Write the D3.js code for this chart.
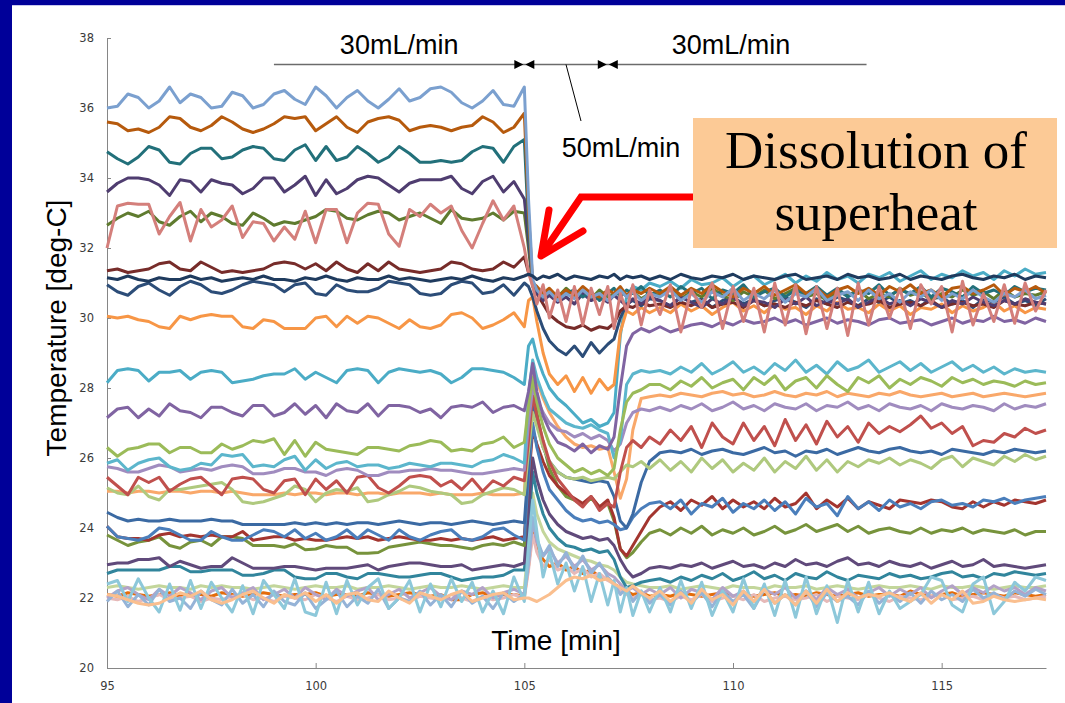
<!DOCTYPE html>
<html>
<head>
<meta charset="utf-8">
<script src="https://cdn.jsdelivr.net/npm/d3@7"></script>
<style>
  body { margin: 0; background: #fff; }
  #chart { width: 1065px; height: 703px; }
</style>
</head>
<body>
<div id="chart"></div>
<script>
const width = 1065;
const height = 703;
const margin = { top: 38, right: 19, bottom: 35, left: 107 };

// time grid (min): before the switch, the 50mL/min period, after
const timesPre = [95,95.25,95.5,95.75,96,96.25,96.5,96.75,97,97.25,97.5,97.75,98,98.25,98.5,98.75,99,99.25,99.5,99.75,100,100.25,100.5,100.75,101,101.25,101.5,101.75,102,102.25,102.5,102.75,103,103.25,103.5,103.75,104,104.25,104.5,104.75,105];
const timesMid = [105.1,105.2,105.3,105.45,105.6,105.8,106,106.2,106.4,106.6,106.8,107,107.15,107.3,107.45,107.6,107.8,108];
const timesPost = [108.25,108.5,108.75,109,109.25,109.5,109.75,110,110.25,110.5,110.75,111,111.25,111.5,111.75,112,112.25,112.5,112.75,113,113.25,113.5,113.75,114,114.25,114.5,114.75,115,115.25,115.5,115.75,116,116.25,116.5,116.75,117,117.25,117.5];

const xTicks = [95, 100, 105, 110, 115];
const yTicks = [20, 22, 24, 26, 28, 30, 32, 34, 36, 38];
const flowLabels = ["30mL/min", "50mL/min", "30mL/min"];
const flowChanges = [105, 107];

// temperatures [deg-C], one array per thermocouple: [pre, mid, post]
const orangeDark = [
  [22.1,22.05,22.15,22.1,22.05,22.1,22.15,22.05,22.1,22.1,22.05,22.15,22.1,22.05,22.1,22.15,22.1,22.05,22.1,22.1,22.15,22.05,22.1,22.1,22.05,22.15,22.1,22.05,22.1,22.15,22.1,22.05,22.1,21.95,21.95,22.1,22.15,22.05,22.1,22.1,22.05],
  [22.9,24.0,23.5,23.1,22.9,23.0,22.8,22.9,22.7,22.8,22.6,22.55,22.4,22.3,22.2,22.1,22.15,22.05],
  [22.1,22.05,22.15,22.1,22.05,22.1,22.15,22.05,22.1,22.05,22.1,22.15,22.05,22.1,22.05,22.15,22.1,22.05,22.1,22.15,22.05,22.1,22.1,22.05,22.2,22.1,22.05,22.1,22.15,22.05,22.1,22.15,22.1,22.05,22.15,22.1,22.05,22.1]
];
const pink = [
  [22.0,21.95,22.05,21.9,22.0,22.1,21.95,22.0,22.05,21.9,22.0,21.95,22.05,22.1,21.95,22.0,21.9,22.05,22.0,21.95,22.1,22.0,21.9,22.05,21.95,22.0,22.1,21.95,22.0,21.9,22.05,22.0,21.95,22.1,22.0,21.9,22.05,21.95,22.0,22.1,22.0],
  [22.8,23.8,23.3,22.9,23.1,22.8,22.9,22.7,22.85,22.6,22.7,22.5,22.4,22.2,22.1,22.0,22.1,21.95],
  [22.0,21.9,22.05,21.95,22.1,21.9,22.0,22.05,21.95,22.1,21.9,22.0,22.05,21.95,22.0,22.1,21.9,22.05,22.0,21.95,22.1,22.0,21.9,22.05,22.0,21.95,22.05,22.1,21.95,22.0,22.05,21.95,22.1,22.0,22.05,21.95,22.0,22.05]
];
const paleGreen = [
  [22.3,22.35,22.3,22.25,22.3,22.35,22.3,22.3,22.25,22.35,22.3,22.35,22.3,22.3,22.25,22.3,22.35,22.3,22.25,22.3,22.35,22.3,22.3,22.35,22.25,22.3,22.3,22.35,22.3,22.25,22.3,22.35,22.3,22.3,22.35,22.3,22.25,22.3,22.35,22.3,22.3],
  [23.5,25.0,24.4,23.9,23.6,23.4,23.3,23.2,23.1,23.05,22.95,22.9,22.8,22.6,22.45,22.4,22.35,22.3],
  [22.3,22.35,22.25,22.3,22.35,22.3,22.25,22.35,22.3,22.3,22.25,22.35,22.3,22.3,22.35,22.25,22.3,22.35,22.3,22.25,22.3,22.35,22.3,22.3,22.35,22.3,22.25,22.35,22.3,22.3,22.35,22.3,22.25,22.3,22.35,22.3,22.3,22.35]
];
const paleLavender = [
  [22.0,22.2,22.3,22.1,21.95,22.25,22.05,22.3,22.15,21.95,22.2,22.3,22.0,22.15,22.3,21.95,22.1,22.25,22.0,22.3,22.1,21.95,22.25,22.05,22.2,22.3,21.95,22.1,22.25,22.0,22.15,22.3,22.05,21.95,22.2,22.1,22.3,22.0,22.15,22.25,22.1],
  [23.0,24.2,23.6,23.2,23.4,23.0,23.2,22.9,23.1,22.8,22.95,22.7,22.6,22.4,22.2,22.3,22.1,22.25],
  [22.1,22.3,22.0,22.25,22.15,21.95,22.3,22.05,22.2,21.9,22.25,22.1,22.3,22.0,22.2,21.95,22.3,22.1,22.25,22.0,22.15,22.3,22.05,22.25,22.1,22.3,22.0,22.2,22.35,22.1,22.3,22.15,22.35,22.2,22.3,22.1,22.3,22.2]
];
const cornflower = [
  [21.9,22.2,21.75,22.1,21.8,22.25,21.9,22.0,21.7,22.2,21.95,21.8,22.25,21.85,22.1,21.75,22.2,21.9,21.8,22.15,21.7,21.95,22.2,21.75,22.05,21.85,22.25,21.7,22.0,21.9,22.2,21.8,22.1,21.75,22.2,21.85,22.05,21.7,22.15,21.9,22.1],
  [23.0,24.3,23.7,23.2,23.5,22.9,23.3,22.8,23.2,22.7,23.0,22.6,22.4,22.1,22.3,21.9,22.2,21.85],
  [22.1,21.8,22.2,21.85,22.15,21.75,22.2,21.9,22.1,21.7,22.25,21.85,22.1,21.8,22.2,21.75,22.15,21.9,22.05,21.8,22.2,21.85,22.1,21.9,22.15,21.85,22.2,21.95,22.1,21.9,22.25,22.0,22.15,21.95,22.2,22.05,22.25,22.1]
];
const tealLow = [
  [22.7,22.8,22.8,22.8,22.8,22.8,22.9,22.9,22.75,22.75,22.8,22.8,22.8,22.65,22.65,22.7,22.8,22.8,22.6,22.55,22.55,22.7,22.7,22.6,22.55,22.7,22.7,22.65,22.6,22.6,22.65,22.7,22.7,22.6,22.5,22.55,22.6,22.6,22.65,22.8,22.8],
  [24.0,25.6,25.0,24.4,24.0,23.7,23.5,23.45,23.35,23.4,23.3,23.35,23.1,22.6,22.3,22.35,22.45,22.5],
  [22.55,22.45,22.6,22.5,22.65,22.55,22.7,22.5,22.6,22.75,22.55,22.65,22.5,22.7,22.6,22.55,22.75,22.6,22.5,22.65,22.6,22.55,22.7,22.6,22.65,22.55,22.6,22.7,22.75,22.6,22.65,22.55,22.7,22.65,22.75,22.7,22.65,22.7]
];
const purpleLow = [
  [22.95,23.0,23.0,23.1,23.1,23.15,22.9,23.05,22.95,22.85,22.9,22.9,23.15,23.0,22.85,22.85,22.85,22.9,22.9,22.85,22.8,22.85,22.85,22.85,22.9,22.95,22.8,22.9,22.95,23.0,23.0,22.95,22.9,22.9,22.95,22.8,22.85,22.9,22.95,22.9,23.0],
  [24.5,26.0,25.4,24.8,24.4,24.1,23.9,23.8,23.7,23.75,23.65,23.7,23.5,23.1,22.8,22.6,22.7,22.85],
  [22.9,22.85,22.95,22.9,23.0,22.85,22.95,23.05,22.9,22.95,22.85,23.0,22.9,23.1,22.95,23.0,22.9,23.05,23.15,22.95,23.0,22.9,23.05,22.95,22.9,23.0,22.85,22.95,23.05,22.9,22.95,23.1,22.9,22.95,22.9,22.85,22.9,22.95]
];
const green = [
  [23.8,23.65,23.5,23.6,23.65,23.75,23.5,23.42,23.6,23.65,23.5,23.75,23.75,23.7,23.5,23.5,23.5,23.45,23.55,23.38,23.4,23.5,23.45,23.45,23.28,23.28,23.3,23.45,23.5,23.55,23.6,23.55,23.5,23.5,23.45,23.4,23.5,23.55,23.5,23.6,23.5],
  [26.0,28.0,27.3,26.4,25.7,25.2,24.9,24.8,24.65,24.85,24.6,24.7,24.2,23.4,23.15,23.3,23.6,23.85],
  [23.95,23.8,24.0,23.85,24.05,23.8,23.95,23.85,24.0,23.8,23.9,24.05,23.85,23.95,24.1,23.9,24.0,24.1,23.9,24.05,23.85,23.95,24.0,23.9,23.85,24.0,23.85,23.95,23.9,24.0,23.85,23.95,23.9,23.85,23.95,23.8,23.9,23.9]
];
const darkRed = [
  [24.05,23.75,23.7,23.7,23.65,23.8,23.85,23.75,23.8,23.75,23.8,23.75,23.75,23.9,23.65,23.7,23.75,23.75,23.65,23.7,23.65,23.65,23.7,23.75,23.7,23.75,23.65,23.7,23.75,23.7,23.65,23.65,23.7,23.65,23.7,23.65,23.7,23.75,23.65,23.7,23.75],
  [25.3,26.8,26.4,25.9,25.5,25.2,25.0,24.85,24.7,24.9,24.6,24.8,24.3,23.4,23.2,23.5,23.9,24.3],
  [24.6,24.75,24.5,24.8,24.65,24.9,24.55,24.8,24.6,24.75,24.55,24.85,24.6,24.7,25.0,24.55,24.8,24.6,24.85,24.55,24.75,24.65,24.55,24.8,24.75,24.7,24.8,24.75,24.6,24.55,24.75,24.6,24.75,24.65,24.8,24.75,24.7,24.8]
];
const blue = [
  [24.05,23.75,23.7,23.65,23.75,24.0,23.95,23.8,23.65,23.65,23.9,23.75,23.65,23.65,23.8,23.95,23.9,23.75,23.95,23.7,23.85,23.65,23.75,23.95,23.7,23.95,23.8,23.65,23.95,23.75,23.65,23.8,23.9,23.95,23.7,23.65,23.75,23.95,24.0,23.8,23.65],
  [25.5,27.0,26.3,25.6,25.1,24.8,24.5,24.3,24.2,24.25,24.15,24.2,24.1,23.95,24.0,24.3,24.55,24.7],
  [24.75,24.55,24.8,24.4,24.7,24.6,24.85,24.45,24.7,24.55,24.8,24.5,24.75,24.4,24.85,24.6,24.7,24.35,24.9,24.55,24.75,24.5,24.8,24.6,24.7,24.55,24.75,24.8,24.65,24.7,24.6,24.8,24.75,24.85,24.7,24.8,24.85,24.9]
];
const steelBlue = [
  [24.45,24.3,24.2,24.25,24.2,24.2,24.25,24.2,24.2,24.2,24.25,24.2,24.2,24.1,24.1,24.1,24.1,24.1,24.15,24.1,24.15,24.1,24.15,24.1,24.15,24.15,24.1,24.15,24.2,24.15,24.1,24.15,24.15,24.1,24.15,24.2,24.15,24.1,24.15,24.2,24.15],
  [25.8,27.6,27.0,26.3,25.9,25.6,25.45,25.4,25.35,25.3,25.35,25.3,24.9,24.2,24.0,24.4,25.3,25.9],
  [26.15,26.2,26.15,26.25,26.1,26.2,26.25,26.15,26.1,26.2,26.3,26.15,26.2,26.05,26.2,26.15,26.25,26.1,26.2,26.3,26.2,26.15,26.25,26.3,26.2,26.15,26.2,26.1,26.25,26.2,26.15,26.1,26.2,26.15,26.25,26.2,26.15,26.2]
];
const lightOrange = [
  [25.05,25.05,25.0,25.05,25.05,25.0,25.05,25.05,25.0,25.05,25.05,25.0,25.05,25.0,24.95,24.95,24.95,25.0,24.95,25.0,25.0,24.95,25.0,25.0,24.95,25.0,25.0,24.95,25.0,25.0,25.0,24.95,25.0,24.95,24.95,24.95,25.0,24.95,24.95,24.95,25.0],
  [27.0,28.6,28.2,27.7,27.3,26.9,26.6,26.4,26.3,26.35,26.25,26.3,25.6,24.85,25.4,26.8,27.7,27.75],
  [27.8,27.75,27.85,27.8,27.75,27.85,27.9,27.8,27.85,27.75,27.8,27.9,27.8,27.75,27.85,27.8,27.9,27.75,27.85,27.8,27.75,27.85,27.8,27.9,27.8,27.75,27.8,27.85,27.75,27.8,27.85,27.75,27.8,27.85,27.8,27.75,27.8,27.85]
];
const sageGreen = [
  [25.15,25.0,24.95,25.2,24.9,24.8,25.1,25.1,25.15,25.2,25.25,25.3,25.1,24.75,24.7,24.75,24.85,24.95,25.2,25.1,24.75,25.0,25.1,25.05,25.15,24.75,24.8,24.95,25.05,25.2,25.15,25.05,25.0,24.95,24.7,24.75,24.95,25.05,25.15,25.1,24.95],
  [26.2,27.3,26.9,26.3,25.9,25.6,25.45,25.4,25.45,25.35,25.4,25.45,25.4,25.6,25.8,25.75,25.9,25.7],
  [25.95,25.65,25.9,25.6,26.0,25.7,25.95,25.6,25.85,25.65,26.0,25.6,25.9,25.7,26.05,25.65,25.95,25.6,25.9,25.75,25.95,25.85,26.0,25.8,25.95,25.85,25.7,25.95,26.05,25.75,26.0,25.9,25.8,26.05,25.9,26.1,25.95,26.05]
];
const red = [
  [25.45,25.2,24.95,25.45,25.3,25.45,25.05,25.25,25.4,25.45,25.2,24.95,25.4,25.45,25.4,25.1,25.0,25.35,25.4,24.95,25.4,25.1,25.35,25.0,25.45,25.5,25.15,25.0,25.2,25.45,25.5,25.45,25.2,25.35,25.1,25.4,25.05,25.35,25.2,25.45,25.35],
  [26.5,27.8,27.2,26.5,25.9,25.4,25.1,24.8,24.6,24.9,24.5,24.7,24.6,25.6,26.3,26.5,26.3,26.6],
  [26.4,26.8,26.5,26.9,26.3,27.0,26.6,26.4,27.0,26.5,26.9,26.35,27.1,26.5,26.95,26.4,27.05,26.6,26.9,26.45,27.0,26.7,26.9,26.75,26.95,27.2,26.85,27.0,26.7,26.9,26.35,26.5,26.45,26.7,26.6,26.85,26.7,26.8]
];
const lavender = [
  [25.75,25.7,25.6,25.6,25.7,25.8,25.75,25.6,25.65,25.7,25.65,25.75,25.8,25.75,25.55,25.55,25.6,25.7,25.7,25.6,25.6,25.5,25.65,25.7,25.65,25.5,25.5,25.6,25.6,25.65,25.65,25.7,25.65,25.65,25.6,25.55,25.55,25.6,25.65,25.7,25.65],
  [27.0,28.0,27.7,27.3,27.0,26.8,26.75,26.6,26.7,26.55,26.65,26.5,26.2,26.4,27.0,27.3,27.4,27.35],
  [27.45,27.35,27.5,27.4,27.55,27.35,27.45,27.6,27.4,27.5,27.35,27.55,27.45,27.4,27.55,27.35,27.5,27.45,27.6,27.4,27.5,27.35,27.55,27.45,27.4,27.5,27.35,27.55,27.45,27.4,27.5,27.45,27.35,27.55,27.4,27.5,27.45,27.55]
];
const skyBlue = [
  [25.85,25.95,25.65,25.85,25.95,26.0,25.75,25.65,25.7,25.85,25.8,26.1,26.05,26.1,25.75,25.8,25.75,25.95,26.05,25.65,25.95,25.7,25.85,25.9,25.75,25.8,25.8,25.7,25.75,25.85,25.8,25.75,25.85,25.85,25.8,25.75,25.9,25.95,26.1,26.0,25.85],
  [27.8,28.8,28.3,27.8,27.4,27.2,27.0,26.9,26.85,26.95,26.8,26.7,26.0,26.5,28.1,28.4,28.5,28.45],
  [28.5,28.4,28.6,28.45,28.7,28.4,28.55,28.75,28.45,28.6,28.4,28.7,28.5,28.8,28.45,28.65,28.4,28.75,28.5,28.6,28.8,28.45,28.6,28.75,28.5,28.7,28.45,28.6,28.75,28.5,28.65,28.45,28.6,28.4,28.55,28.45,28.5,28.45]
];
const lightGreen = [
  [26.3,26.05,26.25,26.3,26.4,26.4,26.15,26.3,26.3,26.15,26.15,26.4,26.25,26.35,26.5,26.45,26.55,26.1,26.5,26.05,26.45,26.25,26.2,26.15,26.1,26.3,26.3,26.25,26.2,26.35,26.4,26.5,26.45,26.2,26.25,26.2,26.4,26.45,26.6,26.3,26.45],
  [27.5,28.3,27.6,26.9,26.4,26.0,25.8,25.6,25.7,25.55,25.65,25.5,25.7,26.8,27.6,27.85,27.95,28.1],
  [28.1,27.95,28.2,28.05,28.3,28.0,28.15,28.25,27.95,28.3,28.1,28.35,27.95,28.2,28.3,28.0,28.35,28.1,27.9,28.3,28.15,28.35,28.0,28.25,28.1,28.3,28.2,28.05,28.3,28.15,28.25,28.1,28.2,28.15,28.05,28.2,28.1,28.15]
];
const purple = [
  [27.15,27.4,27.45,27.15,27.4,27.2,27.55,27.35,27.3,27.15,27.45,27.45,27.3,27.2,27.5,27.5,27.2,27.3,27.55,27.25,27.5,27.15,27.55,27.35,27.3,27.55,27.2,27.5,27.5,27.45,27.3,27.4,27.15,27.45,27.5,27.45,27.6,27.3,27.45,27.5,27.35],
  [27.9,28.7,27.9,27.2,26.8,26.45,26.35,26.2,26.4,26.15,26.35,26.25,26.6,28.0,29.2,29.55,29.7,29.6],
  [29.75,29.6,29.7,29.8,29.85,29.75,29.9,29.8,29.95,29.85,29.9,30.0,29.85,29.95,29.8,29.9,30.0,29.85,29.95,29.9,29.8,29.95,30.0,29.85,29.9,29.95,29.8,29.9,30.0,29.85,29.95,29.9,30.05,29.9,29.95,29.85,30.0,29.9]
];
const cyan = [
  [28.15,28.5,28.55,28.5,28.2,28.45,28.45,28.5,28.25,28.45,28.5,28.45,28.15,28.2,28.25,28.35,28.4,28.4,28.55,28.25,28.45,28.3,28.15,28.5,28.55,28.5,28.15,28.45,28.55,28.5,28.45,28.5,28.4,28.15,28.3,28.55,28.55,28.5,28.45,28.3,28.1],
  [29.2,29.4,28.9,28.4,28.0,27.7,27.5,27.25,27.0,27.1,26.9,27.0,27.3,29.5,30.6,30.9,30.8,31.0],
  [30.9,31.05,30.85,31.1,30.95,31.0,31.15,30.9,31.1,31.2,30.95,31.1,31.25,31.0,31.2,31.05,31.3,31.1,31.2,31.0,31.25,31.15,31.3,31.05,31.2,31.35,31.1,31.25,31.15,31.35,31.2,31.3,31.1,31.35,31.2,31.4,31.25,31.3]
];
const orange = [
  [30.05,30.0,30.05,29.95,29.9,29.75,29.7,30.05,29.95,30.05,30.1,30.05,30.05,29.75,29.7,29.95,29.9,29.7,29.7,29.7,30.0,30.05,29.75,30.05,29.85,30.05,30.0,29.85,29.7,29.95,29.75,29.7,29.8,30.1,30.15,30.0,29.7,29.8,29.95,30.15,29.75],
  [30.5,30.6,29.9,29.0,28.4,28.1,28.35,27.9,28.3,27.85,28.25,27.95,28.1,29.6,30.2,30.1,30.3,30.15],
  [30.3,30.15,30.4,30.2,30.35,30.1,30.3,30.45,30.2,30.35,30.15,30.4,30.25,30.3,30.1,30.35,30.2,30.45,30.25,30.3,30.15,30.4,30.2,30.35,30.1,30.3,30.25,30.4,30.15,30.35,30.2,30.3,30.45,30.2,30.35,30.15,30.3,30.25]
];
const navyB = [
  [30.95,30.75,30.65,30.9,31.0,30.8,30.65,30.9,31.05,30.95,30.75,30.7,30.8,30.95,31.05,31.0,30.95,30.75,30.95,31.0,30.7,30.65,30.95,30.8,30.75,30.75,30.85,31.05,31.0,30.95,30.7,30.65,30.7,30.95,31.05,31.0,30.7,30.75,30.95,30.65,31.0],
  [30.9,30.6,30.2,29.7,29.35,29.1,28.95,29.2,28.9,29.3,29.0,29.25,29.4,30.0,30.4,30.5,30.35,30.55],
  [30.5,30.35,30.6,30.45,30.55,30.3,30.5,30.6,30.4,30.55,30.35,30.5,30.6,30.45,30.3,30.55,30.4,30.6,30.5,30.35,30.55,30.45,30.6,30.4,30.5,30.35,30.55,30.6,30.4,30.5,30.3,30.55,30.45,30.6,30.4,30.5,30.35,30.55]
];
const maroon = [
  [31.35,31.4,31.3,31.35,31.4,31.55,31.6,31.4,31.35,31.6,31.45,31.3,31.35,31.3,31.35,31.4,31.55,31.6,31.55,31.4,31.55,31.35,31.6,31.4,31.3,31.55,31.35,31.6,31.4,31.35,31.3,31.35,31.4,31.6,31.55,31.4,31.35,31.4,31.6,31.45,31.75],
  [31.3,31.0,30.7,30.4,30.1,29.9,29.75,29.7,29.8,29.65,29.75,29.7,29.85,30.2,30.35,30.3,30.45,30.35],
  [30.4,30.3,30.45,30.35,30.5,30.3,30.4,30.45,30.3,30.5,30.35,30.4,30.3,30.45,30.35,30.5,30.4,30.3,30.45,30.35,30.4,30.5,30.3,30.4,30.45,30.35,30.5,30.3,30.4,30.45,30.35,30.4,30.3,30.5,30.4,30.35,30.45,30.4]
];
const olive = [
  [32.65,32.85,33.0,32.9,33.05,32.75,32.65,32.9,33.05,32.75,33.0,32.9,32.7,32.65,33.0,32.85,32.65,32.75,32.7,32.8,32.9,33.1,33.05,32.85,32.8,32.95,33.05,33.0,32.8,32.9,33.0,32.85,32.7,33.1,32.85,32.8,32.85,33.0,32.8,33.05,33.0],
  [32.0,30.9,30.75,30.55,30.8,30.6,30.85,30.65,30.75,30.55,30.8,30.6,30.7,30.85,30.6,30.75,30.55,30.7],
  [30.65,30.8,30.55,30.75,30.6,30.85,30.65,30.5,30.75,30.6,30.8,30.55,30.7,30.85,30.6,30.7,30.5,30.75,30.65,30.8,30.55,30.7,30.6,30.85,30.65,30.75,30.5,30.7,30.6,30.8,30.65,30.75,30.55,30.8,30.6,30.7,30.65,30.75]
];
const darkPurple = [
  [33.6,33.85,34.0,34.0,33.95,33.8,33.5,33.95,33.9,33.6,33.95,33.85,33.8,33.55,33.7,34.0,34.0,33.6,33.8,34.05,33.5,33.95,33.55,33.7,33.95,34.05,34.0,33.8,33.6,33.85,33.95,33.95,33.95,34.05,33.7,33.55,33.9,34.05,33.6,33.9,33.4],
  [32.2,31.0,30.7,30.5,30.65,30.45,30.6,30.4,30.7,30.5,30.6,30.45,30.65,30.5,30.35,30.55,30.4,30.6],
  [30.5,30.35,30.6,30.45,30.3,30.55,30.4,30.6,30.35,30.5,30.45,30.3,30.55,30.4,30.6,30.35,30.5,30.4,30.55,30.3,30.45,30.6,30.4,30.5,30.35,30.55,30.45,30.3,30.5,30.4,30.6,30.45,30.35,30.5,30.4,30.55,30.45,30.4]
];
const darkTeal = [
  [34.75,34.55,34.4,34.6,34.9,34.8,34.45,34.4,34.7,34.85,34.85,34.55,34.6,34.8,34.9,34.85,34.55,34.5,34.8,34.95,34.5,34.9,34.5,34.6,34.9,34.7,34.45,34.6,34.9,34.7,34.45,34.45,34.5,34.45,34.5,34.75,34.9,34.85,34.45,34.9,35.1],
  [32.6,30.95,30.8,30.6,30.75,30.55,30.7,30.8,30.6,30.75,30.5,30.7,30.85,30.6,30.8,30.7,30.9,30.65],
  [30.8,30.6,30.9,30.7,30.85,30.55,30.8,30.7,30.95,30.6,30.75,30.85,30.6,30.8,30.7,30.9,30.65,30.85,30.6,30.8,30.7,30.95,30.65,30.8,30.7,30.9,30.6,30.85,30.75,30.6,30.9,30.7,30.8,30.65,30.9,30.75,30.85,30.8]
];
const darkOrange = [
  [35.6,35.55,35.35,35.4,35.3,35.45,35.75,35.7,35.45,35.35,35.5,35.75,35.6,35.4,35.3,35.4,35.55,35.75,35.7,35.75,35.35,35.55,35.75,35.45,35.3,35.6,35.7,35.75,35.65,35.35,35.45,35.5,35.45,35.35,35.45,35.5,35.75,35.6,35.3,35.45,35.85],
  [33.0,31.0,30.9,30.7,30.85,30.6,30.8,30.65,30.9,30.7,30.6,30.8,30.7,30.9,30.65,30.8,30.7,30.85],
  [30.7,30.9,30.65,30.85,30.7,30.95,30.75,30.6,30.85,30.7,30.9,30.65,30.8,30.95,30.7,30.85,30.6,30.8,30.9,30.7,30.85,30.65,30.9,30.75,30.95,30.7,30.8,30.6,30.85,30.9,30.7,30.8,30.95,30.65,30.85,30.75,30.9,30.7]
];
const lightBlue = [
  [36.0,36.05,36.4,36.3,36.0,36.2,36.6,36.15,36.4,36.3,36.0,36.05,36.45,36.35,36.0,36.1,36.4,36.5,36.25,36.1,36.6,36.35,36.0,36.3,36.5,36.2,36.0,36.25,36.55,36.2,36.3,36.55,36.6,36.45,36.15,36.0,36.2,36.5,36.1,36.05,36.6],
  [33.4,31.1,30.8,30.6,30.75,30.5,30.7,30.55,30.8,30.6,30.7,30.5,30.65,30.8,30.6,30.75,30.5,30.7],
  [30.6,30.8,30.5,30.7,30.45,30.75,30.6,30.85,30.5,30.7,30.55,30.8,30.45,30.7,30.6,30.85,30.5,30.65,30.75,30.5,30.8,30.55,30.7,30.45,30.75,30.6,30.8,30.5,30.7,30.55,30.8,30.6,30.45,30.7,30.6,30.8,30.55,30.65]
];
const salmon = [
  [32.0,33.2,33.28,33.25,33.25,32.4,32.9,33.3,32.2,33.1,32.6,32.8,33.2,32.3,32.75,32.7,32.2,32.6,32.25,33.05,32.15,33.1,33.1,32.15,33.0,33.28,33.25,32.4,32.05,33.1,32.9,33.25,33.0,33.2,32.5,32.0,32.7,33.35,32.8,33.2,32.0],
  [31.3,30.9,30.4,30.95,30.0,30.8,29.9,30.9,29.8,30.85,30.1,30.9,29.7,30.7,30.2,30.95,29.8,30.8],
  [30.1,30.95,29.6,30.8,30.3,31.0,29.7,30.9,29.9,30.85,29.6,31.0,29.8,30.95,29.55,30.9,29.7,30.85,29.5,31.0,29.8,30.9,30.0,30.85,29.7,30.95,30.4,30.9,29.6,31.05,29.8,30.7,29.9,30.95,29.85,31.0,30.2,30.8]
];
const navyA = [
  [31.15,31.1,31.2,31.1,31.05,31.15,31.1,31.1,31.2,31.1,31.15,31.05,31.1,31.15,31.1,31.2,31.1,31.1,31.05,31.15,31.1,31.2,31.1,31.05,31.15,31.1,31.1,31.2,31.1,31.15,31.1,31.05,31.1,31.15,31.1,31.2,31.1,31.05,31.15,31.1,31.2],
  [31.25,31.2,31.1,31.2,31.15,31.25,31.1,31.2,31.15,31.1,31.2,31.15,31.25,31.1,31.2,31.15,31.2,31.1],
  [31.2,31.1,31.25,31.15,31.1,31.2,31.15,31.25,31.1,31.2,31.15,31.1,31.2,31.25,31.1,31.15,31.2,31.1,31.25,31.15,31.2,31.1,31.15,31.25,31.1,31.2,31.15,31.1,31.2,31.25,31.15,31.1,31.2,31.15,31.25,31.1,31.2,31.15]
];
const paleCyan = [
  [22.4,22.5,21.9,22.55,22.0,21.6,22.4,21.65,22.5,21.7,22.45,22.0,21.6,22.35,21.55,22.5,22.1,21.7,22.55,21.6,21.5,22.45,21.55,22.5,21.8,22.3,22.55,21.7,22.0,22.5,21.6,22.4,21.75,22.55,21.9,22.45,21.6,22.2,21.55,22.6,21.9],
  [23.5,24.8,23.9,22.6,23.3,22.4,23.0,22.2,22.9,21.9,22.7,21.8,22.5,21.6,22.3,21.5,22.2,21.6],
  [22.3,21.6,22.5,21.7,22.45,21.5,22.2,21.6,22.55,21.7,22.4,21.5,22.5,21.45,22.6,21.55,22.35,21.3,22.5,21.6,22.45,21.55,22.2,21.7,21.9,22.1,22.6,22.5,21.8,21.6,22.4,22.6,21.55,21.9,22.45,22.2,22.6,22.5]
];
const peach = [
  [22.1,22.05,21.95,21.85,21.8,21.85,22.0,22.15,22.05,22.2,21.95,21.85,21.95,22.1,22.2,22.0,21.85,22.1,22.0,22.15,21.9,22.1,21.85,22.1,22.15,21.95,21.9,22.2,22.0,21.85,22.15,22.05,21.95,22.1,22.2,21.9,22.0,22.1,22.15,21.95,22.0],
  [22.0,21.95,21.9,22.0,22.1,22.3,22.5,22.6,22.55,22.65,22.5,22.55,22.4,22.3,22.2,22.35,22.15,22.0],
  [22.2,21.9,22.15,21.85,22.25,21.95,22.1,21.8,22.2,21.9,22.25,21.85,22.1,21.8,22.2,21.85,22.25,21.9,22.15,22.0,22.1,22.05,22.15,22.0,21.9,22.15,21.85,22.1,21.95,22.2,21.85,21.9,22.05,21.95,21.9,21.95,22.0,21.95]
];

// drawing order (later on top) and line colours
const seriesData = [orangeDark, pink, paleGreen, paleLavender, cornflower, tealLow, purpleLow, green, darkRed, blue, steelBlue,
  lightOrange, sageGreen, red, lavender, skyBlue, lightGreen, purple, cyan, orange, navyB, maroon, olive, darkPurple,
  darkTeal, darkOrange, lightBlue, salmon, navyA, paleCyan, peach];
const seriesColors = ["#E46C0A", "#E6B9B8", "#C3D69B", "#B3A2C7", "#95B3D7", "#31859C", "#604A7B", "#77933C", "#A3352F", "#4A7EBB", "#3B6AA3",
  "#F9A86A", "#AFC97E", "#C0504D", "#A08CBF", "#5CB6CC", "#9BBB59", "#8064A2", "#4BACC6", "#F79646", "#2C4D78", "#772C2A", "#5F7B2F", "#4F3D70",
  "#22707A", "#B65A0D", "#7BA0CF", "#D47F7B", "#1F3B5E", "#8DC8DA", "#FABF8F"];

const svg = d3.select("#chart")
    .append("svg")
    .attr("width", width)
    .attr("height", height)
    .style("display", "block")
    .style("font-family", "'Liberation Sans', Arial, sans-serif");

svg.append("rect").attr("width", width).attr("height", height).attr("fill", "#fff");

const x = d3.scaleLinear().domain([95, 117.5]).range([margin.left, width - margin.right]);
const y = d3.scaleLinear().domain([20, 38]).range([height - margin.bottom, margin.top]);

// axes, Excel style
const yAxis = svg.append("g")
    .attr("transform", `translate(${margin.left},0)`)
    .call(d3.axisLeft(y).tickValues(yTicks).tickSizeInner(-4).tickSizeOuter(0).tickPadding(13));
const xAxis = svg.append("g")
    .attr("transform", `translate(0,${height - margin.bottom})`)
    .call(d3.axisBottom(x).tickValues(xTicks).tickSizeInner(-5).tickSizeOuter(0).tickPadding(14));

[xAxis, yAxis].forEach(g => {
    g.select(".domain").attr("stroke", "#868686");
    g.selectAll(".tick line").attr("stroke", "#868686");
    g.selectAll(".tick text")
        .attr("fill", "#3a3a3a")
        .style("font-family", "'DejaVu Sans', Verdana, sans-serif")
        .style("font-size", "11.5px");
});

// the thermocouple traces
const segTimes = [timesPre, timesMid, timesPost];
function toPoints(parts) {
    const pts = [];
    parts.forEach((vals, k) => {
        vals.forEach((v, i) => {
            if (i < segTimes[k].length) pts.push([segTimes[k][i], v]);
        });
    });
    return pts;
}

const line = d3.line()
    .x(d => x(d[0]))
    .y(d => y(d[1]));

svg.append("g")
    .selectAll("path")
    .data(seriesData)
    .join("path")
    .attr("d", d => line(toPoints(d)))
    .attr("fill", "none")
    .attr("stroke", (d, i) => seriesColors[i])
    .attr("stroke-width", 3)
    .attr("stroke-linejoin", "round");

// axis titles
svg.append("text")
    .attr("transform", "translate(66,328) rotate(-90)")
    .attr("text-anchor", "middle")
    .style("font-size", "28px")
    .text("Temperature [deg-C]");

svg.append("text")
    .attr("x", 556)
    .attr("y", 650)
    .attr("text-anchor", "middle")
    .style("font-size", "28px")
    .text("Time [min]");

// flow-rate annotation on top
const ann = svg.append("g");
const annY = 64.5;
ann.append("line")
    .attr("x1", x(99)).attr("x2", x(113.2))
    .attr("y1", annY).attr("y2", annY)
    .attr("stroke", "#6b6b6b").attr("stroke-width", 1.5);

flowChanges.forEach(t => {
    const cx = x(t);
    ann.append("path")
        .attr("d", `M${cx - 1},${annY} l-9,-4.5 l0,9 Z M${cx + 1},${annY} l9,-4.5 l0,9 Z`)
        .attr("fill", "#000");
});

ann.append("text")
    .attr("x", (x(99) + x(flowChanges[0])) / 2).attr("y", 54)
    .attr("text-anchor", "middle").style("font-size", "27px")
    .text(flowLabels[0]);
ann.append("text")
    .attr("x", 731).attr("y", 54)
    .attr("text-anchor", "middle").style("font-size", "27px")
    .text(flowLabels[2]);
ann.append("text")
    .attr("x", 621).attr("y", 157)
    .attr("text-anchor", "middle").style("font-size", "27px")
    .text(flowLabels[1]);
ann.append("line")
    .attr("x1", 566).attr("y1", annY)
    .attr("x2", 581).attr("y2", 121)
    .attr("stroke", "#000").attr("stroke-width", 1);

// call-out box and red arrow
svg.append("rect")
    .attr("x", 693).attr("y", 118)
    .attr("width", 364).attr("height", 130)
    .attr("fill", "#FCCA96");
svg.append("text")
    .attr("x", 876).attr("y", 168)
    .attr("text-anchor", "middle")
    .style("font-family", "'Liberation Serif', 'Times New Roman', serif")
    .style("font-size", "53px")
    .text("Dissolution of");
svg.append("text")
    .attr("x", 876).attr("y", 230)
    .attr("text-anchor", "middle")
    .style("font-family", "'Liberation Serif', 'Times New Roman', serif")
    .style("font-size", "53px")
    .text("superheat");

svg.append("path")
    .attr("d", "M693,197 L581,197 L542,254")
    .attr("fill", "none")
    .attr("stroke", "#FF0000").attr("stroke-width", 7);
svg.append("path")
    .attr("d", "M549,210 L541,256 L583,231")
    .attr("fill", "none")
    .attr("stroke", "#FF0000").attr("stroke-width", 7)
    .attr("stroke-linecap", "round").attr("stroke-linejoin", "round");

// slide frame
svg.append("rect").attr("x", 0).attr("y", 0).attr("width", 12).attr("height", height).attr("fill", "#000099");
svg.append("rect").attr("x", 0).attr("y", 0).attr("width", width).attr("height", 5).attr("fill", "#000099");
svg.append("line").attr("x1", 12).attr("x2", width).attr("y1", 5.5).attr("y2", 5.5).attr("stroke", "#c8c8ee");
</script>
</body>
</html>
